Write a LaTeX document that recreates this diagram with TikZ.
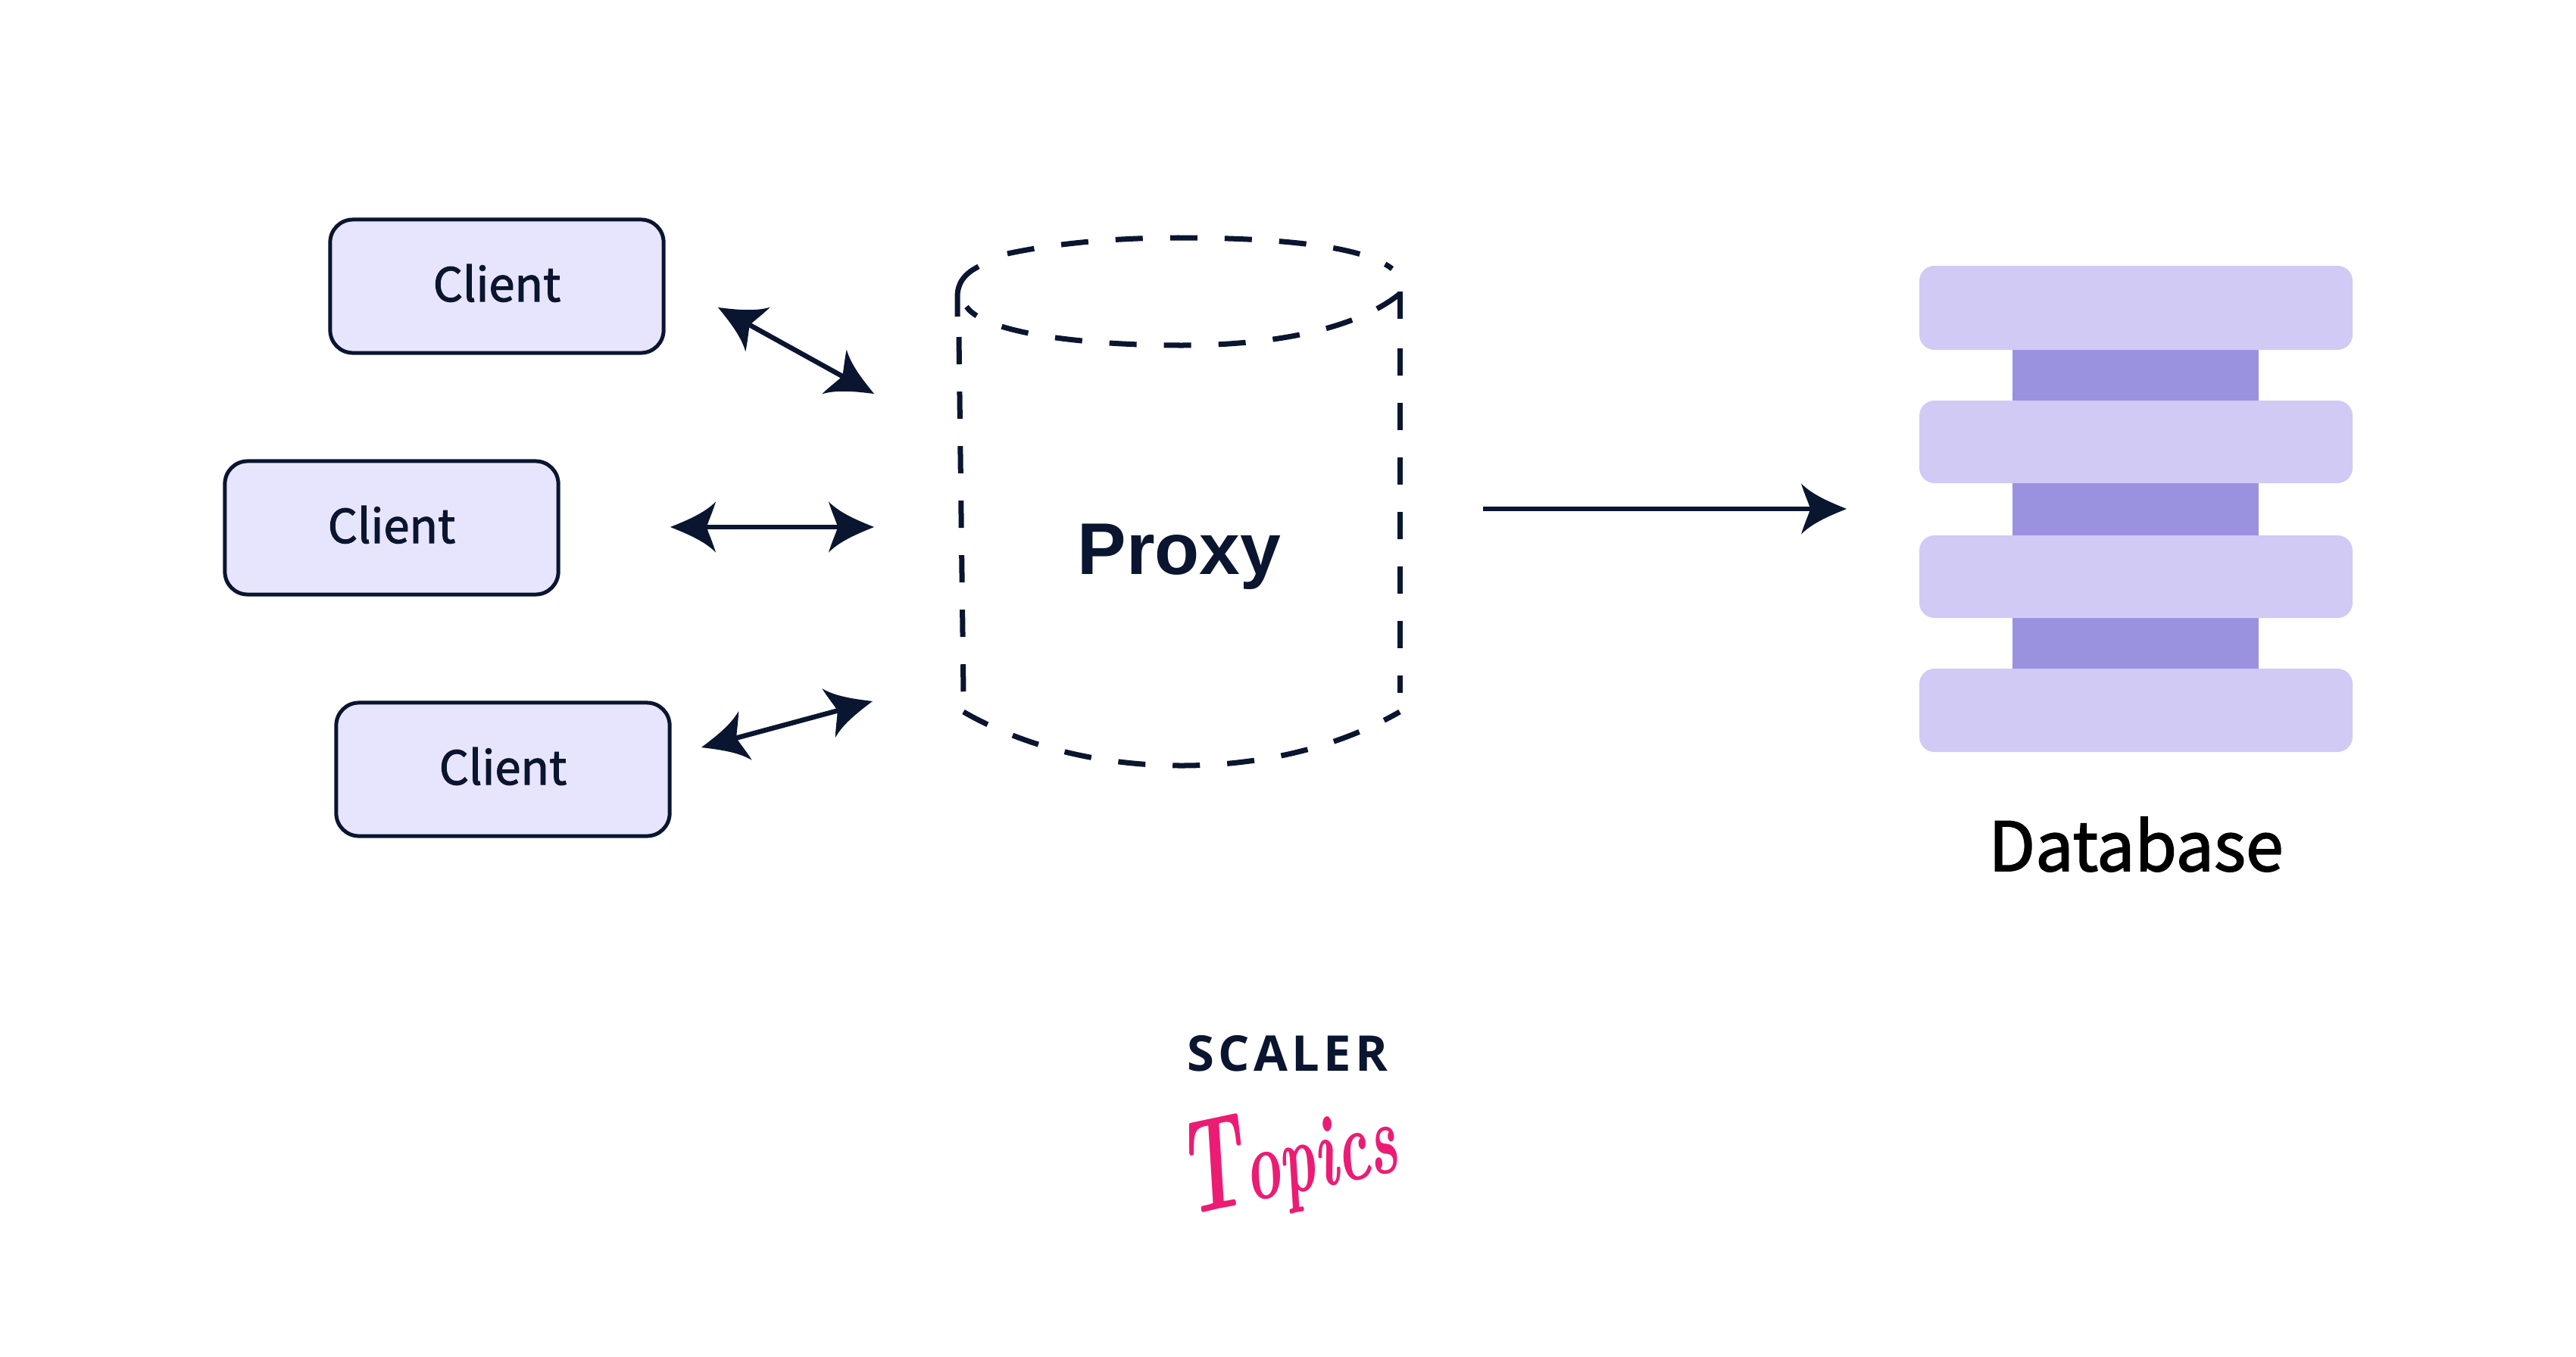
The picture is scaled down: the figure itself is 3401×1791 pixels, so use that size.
\documentclass[tikz,border=0pt]{standalone}
\usepackage{fontspec}
\usetikzlibrary{arrows.meta}
\newfontfamily\labelfont{Noto Sans CJK JP}[FakeBold=1.8]
\newfontfamily\proxyfont{Liberation Sans}
\newfontfamily\logofont{Open Sans}[LetterSpace=8]
\definecolor{ink}{HTML}{0A1530}
\definecolor{clientfill}{HTML}{E7E5FD}
\definecolor{barfill}{HTML}{D0CAF5}
\definecolor{colfill}{HTML}{9B92DF}
\definecolor{pinkc}{HTML}{EC1C74}
\pgfdeclarearrow{
  name=SwoopHead,
  parameters={\the\pgfarrowlength},
  setup code={
    \pgfarrowssettipend{0pt}
    \pgfarrowssetlineend{-0.7\pgfarrowlength}
    \pgfarrowssetbackend{-\pgfarrowlength}
    \pgfarrowssavethe\pgfarrowlength
  },
  drawing code={
    \pgfsetlinewidth{0pt}
    \pgfmathsetlengthmacro{\swL}{\pgfarrowlength}
    \pgfpathmoveto{\pgfpoint{0pt}{0pt}}
    \pgfpathcurveto{\pgfpoint{-0.32*\swL}{0.13*\swL}}{\pgfpoint{-0.75*\swL}{0.3*\swL}}{\pgfpoint{-\swL}{0.56*\swL}}
    \pgfpathcurveto{\pgfpoint{-0.92*\swL}{0.3*\swL}}{\pgfpoint{-0.83*\swL}{0.12*\swL}}{\pgfpoint{-0.8*\swL}{0pt}}
    \pgfpathcurveto{\pgfpoint{-0.83*\swL}{-0.12*\swL}}{\pgfpoint{-0.92*\swL}{-0.3*\swL}}{\pgfpoint{-\swL}{-0.56*\swL}}
    \pgfpathcurveto{\pgfpoint{-0.75*\swL}{-0.3*\swL}}{\pgfpoint{-0.32*\swL}{-0.13*\swL}}{\pgfpoint{0pt}{0pt}}
    \pgfpathclose
    \pgfusepathqfill
  },
  defaults={length=1.7cm}
}
\tikzset{
  clientbox/.style={draw=ink,line width=0.05cm,fill=clientfill,rounded corners=0.3cm,minimum width=4.4cm,minimum height=1.76cm,inner sep=0pt,text=ink,font=\labelfont\fontsize{17.5}{20}\selectfont},
  link/.style={draw=ink,line width=0.065cm,{SwoopHead[length=0.6cm]}-{SwoopHead[length=0.6cm]}},
  oneway/.style={draw=ink,line width=0.065cm,-{SwoopHead[length=0.6cm]}},
  dashline/.style={draw=ink,line width=0.07cm,dash pattern=on 0.36cm off 0.36cm},
  cornerline/.style={draw=ink,line width=0.07cm},
  bar/.style={fill=barfill,rounded corners=0.2cm},
  col/.style={fill=colfill},
}
\begin{document}
\begin{tikzpicture}[x=0.01cm,y=-0.01cm]
\useasboundingbox (0,0) rectangle (3401,1791);
\fill[white] (0,0) rectangle (3401,1791);
% database
\fill[col] (2657,440) rectangle (2982,900);
\fill[bar] (2534,351) rectangle (3106,462);
\fill[bar] (2534,529) rectangle (3106,638);
\fill[bar] (2534,707) rectangle (3106,816);
\fill[bar] (2534,883) rectangle (3106,993);
\node[text=black,font=\labelfont\fontsize{25.5}{30}\selectfont] (db) at (2820,1115) {Database};
% clients
\node[clientbox] (c1) at (656,378) {\raisebox{0.09cm}{Client}};
\node[clientbox] (c2) at (517,697) {\raisebox{0.09cm}{Client}};
\node[clientbox] (c3) at (664,1016) {\raisebox{0.09cm}{Client}};
% proxy
\draw[cornerline] (1264,418) -- (1264,392) .. controls (1264,375) and (1272,362) .. (1292,352);
\draw[dashline] (1330,335) .. controls (1400,320) and (1480,314) .. (1555,314) .. controls (1690,314) and (1800,325) .. (1838,355);
\draw[dashline] (1848,385) -- (1848,425);
\draw[dashline] (1848,388) .. controls (1790,435) and (1680,456) .. (1560,456) .. controls (1430,456) and (1300,440) .. (1276,405);
\draw[dashline] (1266,445) -- (1272,915);
\draw[dashline] (1848,460) -- (1848,915);
\draw[dashline] (1272,940) .. controls (1350,985) and (1450,1011) .. (1560,1011) .. controls (1670,1011) and (1770,985) .. (1848,940);
\node[text=ink,font=\proxyfont\bfseries\fontsize{27.5}{32}\selectfont] (proxy) at (1557,735) {Proxy};
% arrows
\coordinate (a1s) at (948,406); \coordinate (a1e) at (1154,520);
\coordinate (a2s) at (885,696); \coordinate (a2e) at (1154,696);
\coordinate (a3s) at (926,987); \coordinate (a3e) at (1152,926);
\coordinate (a4s) at (1958,672); \coordinate (a4e) at (2438,672);
\draw[link] (a1s) -- (a1e);
\draw[link] (a2s) -- (a2e);
\draw[link] (a3s) -- (a3e);
\draw[oneway] (a4s) -- (a4e);
% logo
\node[text=ink,font=\logofont\bfseries\fontsize{18.5}{22}\selectfont] (scaler) at (1700,1391) {SCALER};
\node[text=pinkc,font=\itshape\bfseries\fontsize{38}{42}\selectfont,rotate=12,xscale=0.6,transform shape,anchor=center] (topics) at (1700,1530) {{\fontsize{50}{50}\selectfont T}opics};
\end{tikzpicture}
\end{document}
